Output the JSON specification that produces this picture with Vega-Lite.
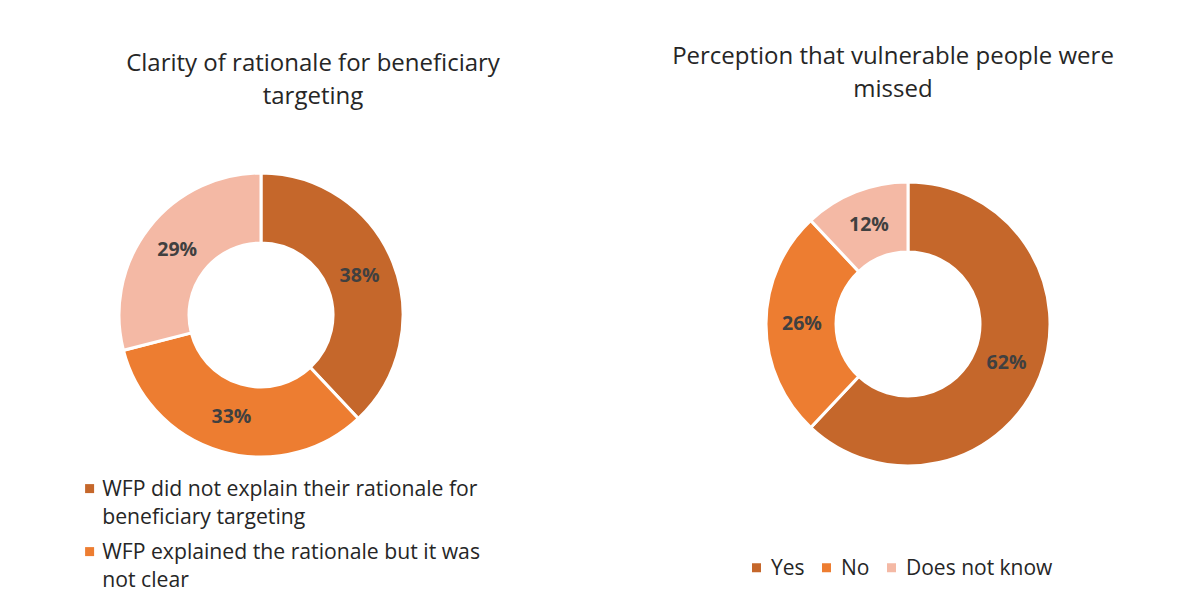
{
  "$schema": "https://vega.github.io/schema/vega-lite/v6.json",
  "background": "white",
  "padding": {"left": 79, "top": 45, "right": 5, "bottom": 5},
  "config": {"view": {"stroke": null}, "font": "Open Sans", "style": {"guide-label": {"lineHeight": 28, "dy": -10}}},
  "bounds": "flush",
  "spacing": 365,
  "hconcat": [
    {
      "width": 282,
      "height": 282,
      "title": {"text": ["Clarity of rationale for beneficiary", "targeting"], "fontSize": 24, "fontWeight": "normal", "color": "#262626", "lineHeight": 33, "anchor": "middle", "dx": 52, "offset": 58},
      "data": {"values": [
        {"cat": "WFP did not explain their rationale for beneficiary targeting", "value": 38, "label": "38%", "ord": 1},
        {"cat": "WFP explained the rationale but it was not clear", "value": 33, "label": "33%", "ord": 2},
        {"cat": "WFP explained the rationale and it was clear", "value": 29, "label": "29%", "ord": 3}
      ]},
      "encoding": {
        "theta": {"field": "value", "type": "quantitative", "stack": true},
        "order": {"field": "ord", "type": "quantitative"}
      },
      "layer": [
        {
          "mark": {"type": "arc", "innerRadius": 72, "outerRadius": 142, "stroke": "white", "strokeWidth": 3},
          "encoding": {
            "color": {
              "field": "cat", "type": "nominal",
              "scale": {
                "domain": ["WFP did not explain their rationale for beneficiary targeting", "WFP explained the rationale but it was not clear", "WFP explained the rationale and it was clear"],
                "range": ["#C5672B", "#ED7D31", "#F4B9A5"]
              },
              "legend": {
                "values": ["WFP did not explain their rationale for beneficiary targeting", "WFP explained the rationale but it was not clear"],
                "title": null,
                "orient": "none",
                "legendX": -41,
                "legendY": 304,
                "direction": "vertical",
                "padding": 0,
                "symbolType": "square",
                "symbolSize": 81,
                "symbolStrokeWidth": 0,
                "labelFontSize": 21.2,
                "labelColor": "#262626",
                "labelOffset": 2,
                "labelLimit": 500,
                "labelBaseline": "top",
                "rowPadding": 13,
                "labelExpr": "datum.label == 'WFP did not explain their rationale for beneficiary targeting' ? ['WFP did not explain their rationale for', 'beneficiary targeting'] : ['WFP explained the rationale but it was', 'not clear']"
              }
            }
          }
        },
        {
          "mark": {"type": "text", "radius": 106, "fontSize": 19.5, "fontWeight": "bold", "fill": "#404040"},
          "encoding": {"text": {"field": "label", "type": "nominal"}}
        }
      ]
    },
    {
      "width": 282,
      "height": 300,
      "title": {"text": ["Perception that vulnerable people were", "missed"], "fontSize": 24, "fontWeight": "normal", "color": "#262626", "lineHeight": 33, "anchor": "middle", "dx": -15, "offset": 72},
      "data": {"values": [
        {"cat": "Yes", "value": 62, "label": "62%", "ord": 1},
        {"cat": "No", "value": 26, "label": "26%", "ord": 2},
        {"cat": "Does not know", "value": 12, "label": "12%", "ord": 3}
      ]},
      "encoding": {
        "theta": {"field": "value", "type": "quantitative", "stack": true},
        "order": {"field": "ord", "type": "quantitative"}
      },
      "layer": [
        {
          "mark": {"type": "arc", "innerRadius": 72, "outerRadius": 142, "stroke": "white", "strokeWidth": 3},
          "encoding": {
            "color": {
              "field": "cat", "type": "nominal",
              "scale": {"domain": ["Yes", "No", "Does not know"], "range": ["#C5672B", "#ED7D31", "#F4B9A5"]},
              "legend": {
                "title": null,
                "orient": "none",
                "legendX": -21,
                "legendY": 383,
                "direction": "horizontal",
                "padding": 0,
                "symbolType": "square",
                "symbolSize": 81,
                "symbolStrokeWidth": 0,
                "labelFontSize": 21,
                "labelColor": "#262626",
                "labelOffset": 4,
                "labelLimit": 300,
                "labelBaseline": "top",
                "columnPadding": 11
              }
            }
          }
        },
        {
          "mark": {"type": "text", "radius": 106, "fontSize": 19.5, "fontWeight": "bold", "fill": "#404040"},
          "encoding": {"text": {"field": "label", "type": "nominal"}}
        }
      ]
    }
  ],
  "resolve": {"scale": {"color": "independent", "theta": "independent"}, "legend": {"color": "independent"}}
}
